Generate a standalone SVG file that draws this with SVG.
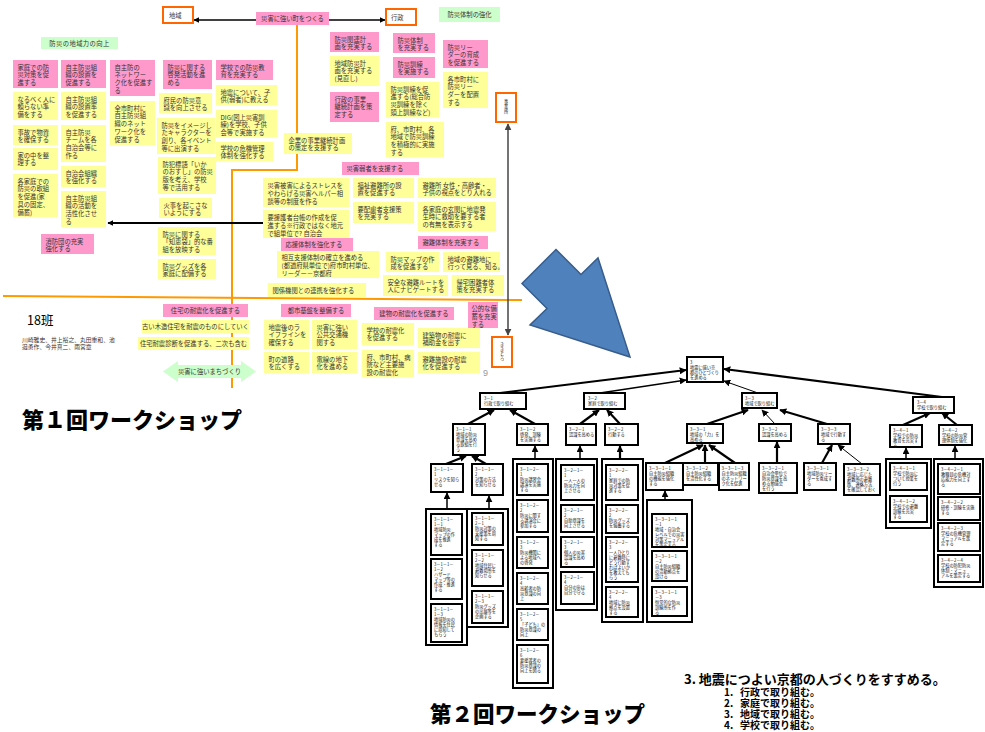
<svg xmlns="http://www.w3.org/2000/svg" width="985" height="732" viewBox="0 0 985 732">
<style>
.p{fill:#FF99CC}
.y{fill:#FFFF99}
.g{fill:#CCFFCC}
.o{fill:#fff;stroke:#FF6600;stroke-width:2}
.t{font-family:"Noto Sans CJK JP","Noto Sans",sans-serif;font-size:6.3px;fill:#333}
.n{fill:#fff;stroke:#000;stroke-width:2}
.s{font-family:"Noto Sans CJK JP","Noto Sans",sans-serif;font-size:4.2px;fill:#111}
.k{stroke:#000;fill:none}
.w1{stroke-width:1}
.w2{stroke-width:2.2}
.big{font-family:"Noto Sans CJK JP","Noto Sans",sans-serif;font-weight:900;fill:#000}
.h{font-family:"Noto Sans CJK JP","Noto Sans",sans-serif;font-weight:bold;fill:#000}
</style>
<defs>
<marker id="a" viewBox="0 0 10 10" refX="9" refY="5" markerWidth="6" markerHeight="6" markerUnits="userSpaceOnUse" orient="auto-start-reverse"><path d="M0,0L10,5L0,10z" fill="#000"/></marker>
<marker id="ag" viewBox="0 0 10 10" refX="9" refY="5" markerWidth="7" markerHeight="7" markerUnits="userSpaceOnUse" orient="auto-start-reverse"><path d="M0,0L10,5L0,10z" fill="#444"/></marker>
<marker id="b" viewBox="0 0 10 10" refX="9" refY="5" markerWidth="7" markerHeight="7" markerUnits="userSpaceOnUse" orient="auto"><path d="M0,0L10,5L0,10z" fill="#000"/></marker>
</defs>
<rect width="985" height="732" fill="#fff"/>

<g id="connectors">
<path d="M297,25V170H232V388" stroke="#FF9900" stroke-width="2" fill="none"/>
<path d="M3,296L522,300" stroke="#FF9900" stroke-width="2" fill="none"/>
<path d="M256,20H194" class="k" stroke-width="1.3" marker-end="url(#a)"/>
<path d="M329,20H385" class="k" stroke-width="1.3" marker-end="url(#a)"/>
<path d="M263,223H108" class="k" stroke-width="2" marker-end="url(#a)"/>
<path d="M508,124V335" stroke="#444" stroke-width="1.5" fill="none" marker-start="url(#ag)" marker-end="url(#ag)"/>
<path d="M500,393L686,370" class="k w2" marker-end="url(#b)"/>
<path d="M600,393L686,380" class="k" stroke-width="1.5" marker-end="url(#b)"/>
<path d="M758,393L724,381" class="k w1" marker-end="url(#b)"/>
<path d="M942,397L724,369" class="k w2" marker-end="url(#b)"/>
<path d="M468,424L494,410" class="k w2" marker-end="url(#b)"/>
<path d="M535,424L510,410" class="k w2" marker-end="url(#b)"/>
<path d="M580,424L599,410" class="k w2" marker-end="url(#b)"/>
<path d="M620,424L607,410" class="k w2" marker-end="url(#b)"/>
<path d="M707,424L748,410" class="k w2" marker-end="url(#b)"/>
<path d="M775,424L762,410" class="k w1" marker-end="url(#b)"/>
<path d="M827,424L780,410" class="k w2" marker-end="url(#b)"/>
<path d="M903,425L930,413" class="k w2" marker-end="url(#b)"/>
<path d="M957,425L942,413" class="k w2" marker-end="url(#b)"/>
<path d="M446,464L466,456" class="k w2" marker-end="url(#b)"/>
<path d="M486,464L472,456" class="k w2" marker-end="url(#b)"/>
<path d="M447,509V493" class="k" stroke-width="1.5" marker-end="url(#b)"/>
<path d="M489,509V496" class="k" stroke-width="1.5" marker-end="url(#b)"/>
<path d="M535,459V446" class="k" stroke-width="1.5" marker-end="url(#b)"/>
<path d="M580,459V446" class="k" stroke-width="1.5" marker-end="url(#b)"/>
<path d="M620,459V446" class="k w2" marker-end="url(#b)"/>
<path d="M665,463L703,445" class="k w2" marker-end="url(#b)"/>
<path d="M705,463V445" class="k w2" marker-end="url(#b)"/>
<path d="M735,463L709,445" class="k w2" marker-end="url(#b)"/>
<path d="M665,500V491" class="k" stroke-width="1.5" marker-end="url(#b)"/>
<path d="M777,463V442" class="k w2" marker-end="url(#b)"/>
<path d="M822,463L832,445" class="k w2" marker-end="url(#b)"/>
<path d="M862,464L838,445" class="k w1" marker-end="url(#b)"/>
<path d="M906,459V448" class="k" stroke-width="1.5" marker-end="url(#b)"/>
<path d="M955,459V446" class="k" stroke-width="1.5" marker-end="url(#b)"/>
</g>

<g id="chiiki"><rect class="o" x="163" y="7" width="30" height="16"/><text class="t" x="169" y="18">地域</text></g>
<g id="main1"><rect class="p" x="256" y="12" width="73" height="13"/><text class="t" x="292.5" y="21" text-anchor="middle">災害に強い町をつくる</text></g>
<g id="gyosei"><rect class="o" x="386" y="9" width="30" height="16"/><text class="t" x="391" y="20">行政</text></g>
<g id="gtaisei"><rect class="g" x="439" y="7" width="61" height="15"/><text class="t" x="469.5" y="17" text-anchor="middle">防災体制の強化</text></g>
<g id="gchiiki"><rect class="g" x="41" y="37" width="77" height="12"/><text class="t" x="79.5" y="45.5" text-anchor="middle" letter-spacing="0.4">防災の地域力の向上</text></g>
<g id="vbox1"><rect class="o" x="496" y="93" width="20" height="29"/><text class="s" x="506" y="103" text-anchor="middle"><tspan x="506">事</tspan><tspan x="506" dy="5">業</tspan><tspan x="506" dy="5">所</tspan></text></g>
<g id="vbox2"><rect class="o" x="492" y="337" width="20" height="30"/><text class="s" x="502" y="346" text-anchor="middle"><tspan x="502">き</tspan><tspan x="502" dy="4.5">き</tspan><tspan x="502" dy="4.5">と</tspan><tspan x="502" dy="4.5">ろ</tspan></text></g>

<g id="b1"><rect class="p" x="13" y="60" width="45" height="28"/><text class="t" y="69.5"><tspan x="17.5">家庭での防</tspan><tspan x="17.5" dy="7.8">災対策を促</tspan><tspan x="17.5" dy="7.8">進する</tspan></text></g>
<g id="b2"><rect class="y" x="13" y="92" width="45" height="28"/><text class="t" y="101.5"><tspan x="17.5">なるべく人に</tspan><tspan x="17.5" dy="7.8">頼らない準</tspan><tspan x="17.5" dy="7.8">備をする</tspan></text></g>
<g id="b3"><rect class="y" x="13" y="125" width="45" height="20"/><text class="t" y="134.5"><tspan x="17.5">事故で物資</tspan><tspan x="17.5" dy="7.8">を確保する</tspan></text></g>
<g id="b4"><rect class="y" x="13" y="148" width="45" height="22"/><text class="t" y="157.5"><tspan x="17.5">家の中を整</tspan><tspan x="17.5" dy="7.8">理する</tspan></text></g>
<g id="b5"><rect class="y" x="13" y="174" width="45" height="43"/><text class="t" y="183.5"><tspan x="17.5">各家庭での</tspan><tspan x="17.5" dy="7.8">防災の取組</tspan><tspan x="17.5" dy="7.8">を促進(家</tspan><tspan x="17.5" dy="7.8">具の固定、</tspan><tspan x="17.5" dy="7.8">備蓄)</tspan></text></g>
<g id="b6"><rect class="p" x="61" y="60" width="45" height="28"/><text class="t" y="69.5"><tspan x="65.5">自主防災組</tspan><tspan x="65.5" dy="7.8">織の設置を</tspan><tspan x="65.5" dy="7.8">促進する</tspan></text></g>
<g id="b7"><rect class="y" x="61" y="92" width="45" height="28"/><text class="t" y="101.5"><tspan x="65.5">自主防災組</tspan><tspan x="65.5" dy="7.8">織の設置率</tspan><tspan x="65.5" dy="7.8">を促進する</tspan></text></g>
<g id="b8"><rect class="y" x="61" y="125" width="45" height="37"/><text class="t" y="134.5"><tspan x="65.5">自主防災</tspan><tspan x="65.5" dy="7.8">チームを各</tspan><tspan x="65.5" dy="7.8">自治会等に</tspan><tspan x="65.5" dy="7.8">作る</tspan></text></g>
<g id="b9"><rect class="y" x="61" y="166" width="45" height="21"/><text class="t" y="175.5"><tspan x="65.5">自治会組織</tspan><tspan x="65.5" dy="7.8">を強化する</tspan></text></g>
<g id="b10"><rect class="y" x="61" y="191" width="45" height="36"/><text class="t" y="200.5"><tspan x="65.5">自主防災組</tspan><tspan x="65.5" dy="7.8">織の活動を</tspan><tspan x="65.5" dy="7.8">活性化させ</tspan><tspan x="65.5" dy="7.8">る</tspan></text></g>
<g id="b11"><rect class="p" x="41" y="234" width="53" height="20"/><text class="t" y="243.5"><tspan x="45.5">消防団の充実</tspan><tspan x="45.5" dy="7.8">強化する</tspan></text></g>
<g id="b12"><rect class="p" x="110" y="60" width="45" height="36"/><text class="t" y="69.5"><tspan x="114.5">自主防の</tspan><tspan x="114.5" dy="7.8">ネットワー</tspan><tspan x="114.5" dy="7.8">ク化を促進す</tspan><tspan x="114.5" dy="7.8">る</tspan></text></g>
<g id="b13"><rect class="y" x="110" y="101" width="45" height="44"/><text class="t" y="110.5"><tspan x="114.5">全市町村に</tspan><tspan x="114.5" dy="7.8">自主防災組</tspan><tspan x="114.5" dy="7.8">織のネット</tspan><tspan x="114.5" dy="7.8">ワーク化を</tspan><tspan x="114.5" dy="7.8">促進する</tspan></text></g>
<g id="b14"><rect class="p" x="163" y="60" width="49" height="29"/><text class="t" y="69.5"><tspan x="167.5">防災に関する</tspan><tspan x="167.5" dy="7.8">啓発活動を進</tspan><tspan x="167.5" dy="7.8">める</tspan></text></g>
<g id="b15"><rect class="y" x="159" y="93" width="53" height="20"/><text class="t" y="102.5"><tspan x="163.5">府民の防災意</tspan><tspan x="163.5" dy="7.8">識を向上させる</tspan></text></g>
<g id="b16"><rect class="y" x="157" y="118" width="58" height="36"/><text class="t" y="127.5"><tspan x="161.5">防災をイメージし</tspan><tspan x="161.5" dy="7.8">たキャラクターを</tspan><tspan x="161.5" dy="7.8">創り、各イベント</tspan><tspan x="161.5" dy="7.8">等に出演する</tspan></text></g>
<g id="b17"><rect class="y" x="158" y="157" width="58" height="37"/><text class="t" y="166.5"><tspan x="162.5">防犯標語「いか</tspan><tspan x="162.5" dy="7.8">のおすし」の防災</tspan><tspan x="162.5" dy="7.8">版を考え、学校</tspan><tspan x="162.5" dy="7.8">等で活用する</tspan></text></g>
<g id="b18"><rect class="y" x="159" y="198" width="53" height="20"/><text class="t" y="207.5"><tspan x="163.5">火事を起こさな</tspan><tspan x="163.5" dy="7.8">いようにする</tspan></text></g>
<g id="b19"><rect class="y" x="158" y="227" width="58" height="28"/><text class="t" y="236.5"><tspan x="162.5">防災に関する</tspan><tspan x="162.5" dy="7.8">「知恵袋」的な番</tspan><tspan x="162.5" dy="7.8">組を放映する</tspan></text></g>
<g id="b20"><rect class="y" x="158" y="259" width="58" height="20"/><text class="t" y="268.5"><tspan x="162.5">防災グッズを各</tspan><tspan x="162.5" dy="7.8">家庭に配備する</tspan></text></g>
<g id="b21"><rect class="p" x="216" y="60" width="57" height="20"/><text class="t" y="69.5"><tspan x="220.5">学校での防災教</tspan><tspan x="220.5" dy="7.8">育を充実する</tspan></text></g>
<g id="b22"><rect class="y" x="216" y="85" width="61" height="20"/><text class="t" y="94.5"><tspan x="220.5">地震について、子</tspan><tspan x="220.5" dy="7.8">供(弱者)に教える</tspan></text></g>
<g id="b23"><rect class="y" x="216" y="110" width="61" height="27"/><text class="t" y="119.5"><tspan x="220.5">DIG(図上災害訓</tspan><tspan x="220.5" dy="7.8">練)を学校、子供</tspan><tspan x="220.5" dy="7.8">会等で実施する</tspan></text></g>
<g id="b24"><rect class="y" x="216" y="142" width="57" height="19"/><text class="t" y="150.5"><tspan x="220.5">学校の危機管理</tspan><tspan x="220.5" dy="7.8">体制を強化する</tspan></text></g>
<g id="b25"><rect class="y" x="284" y="133" width="68" height="21"/><text class="t" y="142.5"><tspan x="288.5">企業の事業継続計画</tspan><tspan x="288.5" dy="7.8">の策定を支援する</tspan></text></g>
<g id="b26"><rect class="p" x="330" y="32" width="49" height="20"/><text class="t" y="41.5"><tspan x="334.5">防災関連計</tspan><tspan x="334.5" dy="7.8">画を充実する</tspan></text></g>
<g id="b27"><rect class="y" x="330" y="56" width="49" height="30"/><text class="t" y="65.5"><tspan x="334.5">地域防災計</tspan><tspan x="334.5" dy="7.8">画を充実する</tspan><tspan x="334.5" dy="7.8">(見直し)</tspan></text></g>
<g id="b28"><rect class="p" x="330" y="92" width="49" height="30"/><text class="t" y="101.5"><tspan x="334.5">行政の事業</tspan><tspan x="334.5" dy="7.8">継続計画を策</tspan><tspan x="334.5" dy="7.8">定する</tspan></text></g>
<g id="b29"><rect class="p" x="393" y="33" width="42" height="20"/><text class="t" y="42.5"><tspan x="397.5">防災体制</tspan><tspan x="397.5" dy="7.8">を充実する</tspan></text></g>
<g id="b30"><rect class="p" x="393" y="57" width="42" height="21"/><text class="t" y="66.5"><tspan x="397.5">防災訓練</tspan><tspan x="397.5" dy="7.8">を実施する</tspan></text></g>
<g id="b31"><rect class="y" x="386" y="82" width="53" height="35"/><text class="t" y="91.5"><tspan x="390.5">防災訓練を促</tspan><tspan x="390.5" dy="7.8">進する(総合防</tspan><tspan x="390.5" dy="7.8">災訓練を除く</tspan><tspan x="390.5" dy="7.8">頭上訓練など)</tspan></text></g>
<g id="b32"><rect class="y" x="386" y="122" width="58" height="35"/><text class="t" y="131.5"><tspan x="390.5">府、市町村、各</tspan><tspan x="390.5" dy="7.8">地域で防災訓練</tspan><tspan x="390.5" dy="7.8">を積極的に実施</tspan><tspan x="390.5" dy="7.8">する</tspan></text></g>
<g id="b33"><rect class="p" x="443" y="40" width="45" height="28"/><text class="t" y="49.5"><tspan x="447.5">防災リー</tspan><tspan x="447.5" dy="7.8">ダーの育成</tspan><tspan x="447.5" dy="7.8">を促進する</tspan></text></g>
<g id="b34"><rect class="y" x="443" y="72" width="45" height="36"/><text class="t" y="81.5"><tspan x="447.5">各市町村に</tspan><tspan x="447.5" dy="7.8">防災リー</tspan><tspan x="447.5" dy="7.8">ダーを配置</tspan><tspan x="447.5" dy="7.8">する</tspan></text></g>
<g id="b35"><rect class="p" x="342" y="162" width="77" height="13"/><text class="t" x="346.5" y="171">災害弱者を支援する</text></g>
<g id="b36"><rect class="y" x="263" y="178" width="86" height="29"/><text class="t" y="187.5"><tspan x="267.5">災害被害によるストレスを</tspan><tspan x="267.5" dy="8">やわらげる災害ヘルパー相</tspan><tspan x="267.5" dy="8">談等の制度を作る</tspan></text></g>
<g id="b37"><rect class="y" x="263" y="210" width="86" height="28"/><text class="t" y="219.5"><tspan x="267.5">要援護者台帳の作成を促</tspan><tspan x="267.5" dy="8">進する※行政ではなく地元</tspan><tspan x="267.5" dy="8">で組単位で?  自治会</tspan></text></g>
<g id="b38"><rect class="p" x="281" y="238" width="72" height="13"/><text class="t" x="285.5" y="247">応援体制を強化する</text></g>
<g id="b39"><rect class="y" x="277" y="251" width="102" height="27"/><text class="t" y="259.5"><tspan x="281.5">相互支援体制の確立を進める</tspan><tspan x="281.5" dy="8">(都道府県単位で)府市町村単位、</tspan><tspan x="281.5" dy="8">リーダー－京都府</tspan></text></g>
<g id="b40"><rect class="y" x="268" y="283" width="98" height="14"/><text class="t" x="272.5" y="292.5">関係機関との連携を強化する</text></g>
<g id="b41"><rect class="y" x="353" y="178" width="61" height="20"/><text class="t" y="187.5"><tspan x="357.5">福祉避難所の設</tspan><tspan x="357.5" dy="7.8">置を促進する</tspan></text></g>
<g id="b42"><rect class="y" x="353" y="202" width="61" height="21"/><text class="t" y="211.5"><tspan x="357.5">要配慮者支援策</tspan><tspan x="357.5" dy="7.8">を充実する</tspan></text></g>
<g id="b43"><rect class="y" x="418" y="178" width="78" height="20"/><text class="t" y="187.5"><tspan x="422.5">避難所  女性・高齢者・</tspan><tspan x="422.5" dy="7.8">子供の視点をとり入れる</tspan></text></g>
<g id="b44"><rect class="y" x="418" y="202" width="78" height="29"/><text class="t" y="211.5"><tspan x="422.5">各家庭の玄関に地震発</tspan><tspan x="422.5" dy="7.8">生時に救助を要する者</tspan><tspan x="422.5" dy="7.8">の有無を表示する</tspan></text></g>
<g id="b45"><rect class="p" x="418" y="236" width="70" height="13"/><text class="t" x="422.5" y="245">避難体制を充実する</text></g>
<g id="b46"><rect class="y" x="386" y="252" width="53" height="20"/><text class="t" y="261.5"><tspan x="390.5">防災マップの作</tspan><tspan x="390.5" dy="7.8">成を促進する</tspan></text></g>
<g id="b47"><rect class="y" x="443" y="252" width="57" height="20"/><text class="t" y="261.5"><tspan x="447.5">地域の避難地に</tspan><tspan x="447.5" dy="7.8">行って見る、知る。</tspan></text></g>
<g id="b48"><rect class="y" x="383" y="275" width="65" height="21"/><text class="t" y="284.5"><tspan x="387.5">安全な避難ルートを</tspan><tspan x="387.5" dy="7.8">人にナビゲートする</tspan></text></g>
<g id="b49"><rect class="y" x="452" y="275" width="52" height="21"/><text class="t" y="284.5"><tspan x="456.5">帰宅困難者体</tspan><tspan x="456.5" dy="7.8">策を充実する</tspan></text></g>

<g id="b50"><rect class="p" x="163" y="304" width="85" height="13"/><text class="t" x="205.5" y="313" text-anchor="middle">住宅の耐震化を促進する</text></g>
<g id="b51"><rect class="y" x="142" y="320" width="107" height="13"/><text class="t" x="195.5" y="329" text-anchor="middle">古い木造住宅を耐震のものにしていく</text></g>
<g id="b52"><rect class="y" x="138" y="337" width="111" height="13"/><text class="t" x="193.5" y="346" text-anchor="middle">住宅耐震診断を促進する、二次も含む</text></g>
<g id="b53"><rect class="p" x="281" y="304" width="70" height="13"/><text class="t" x="316" y="313" text-anchor="middle">都市基盤を整備する</text></g>
<g id="b54"><rect class="y" x="264" y="320" width="45" height="29"/><text class="t" y="329.5"><tspan x="268.5">地震後のラ</tspan><tspan x="268.5" dy="7.8">イフラインを</tspan><tspan x="268.5" dy="7.8">確保する</tspan></text></g>
<g id="b55"><rect class="y" x="312" y="320" width="45" height="29"/><text class="t" y="329.5"><tspan x="316.5">災害に強い</tspan><tspan x="316.5" dy="7.8">公共交通機</tspan><tspan x="316.5" dy="7.8">関する</tspan></text></g>
<g id="b56"><rect class="y" x="264" y="352" width="45" height="21"/><text class="t" y="361.5"><tspan x="268.5">町の道路</tspan><tspan x="268.5" dy="7.8">を広くする</tspan></text></g>
<g id="b57"><rect class="y" x="312" y="352" width="45" height="21"/><text class="t" y="361.5"><tspan x="316.5">電線の地下</tspan><tspan x="316.5" dy="7.8">化を進める</tspan></text></g>
<g id="b58"><rect class="p" x="374" y="307" width="80" height="13"/><text class="t" x="414" y="316" text-anchor="middle">建物の耐震化を促進する</text></g>
<g id="b59"><rect class="y" x="362" y="323" width="52" height="22"/><text class="t" y="332.5"><tspan x="366.5">学校の耐震化</tspan><tspan x="366.5" dy="7.8">を促進する</tspan></text></g>
<g id="b60"><rect class="y" x="418" y="328" width="62" height="20"/><text class="t" y="337.5"><tspan x="422.5">建築物の耐震に</tspan><tspan x="422.5" dy="7.8">補助金を出す</tspan></text></g>
<g id="b61"><rect class="y" x="362" y="350" width="52" height="27"/><text class="t" y="359.5"><tspan x="366.5">府、市町村、病</tspan><tspan x="366.5" dy="7.8">院など主要施</tspan><tspan x="366.5" dy="7.8">設の耐震化</tspan></text></g>
<g id="b62"><rect class="y" x="418" y="352" width="62" height="21"/><text class="t" y="361.5"><tspan x="422.5">避難施設の耐震</tspan><tspan x="422.5" dy="7.8">化を促進する</tspan></text></g>
<g id="b63"><rect class="p" x="468" y="302" width="30" height="26"/><text class="t" y="311"><tspan x="471.5">公的な備</tspan><tspan x="471.5" dy="7.8">蓄を充実</tspan><tspan x="471.5" dy="7.8">する</tspan></text></g>

<g id="machizukuri"><path class="g" d="M163,371.5L178,361V365H241V361L256,371.5L241,382V378H178V382Z"/><text class="t" x="209.5" y="374" text-anchor="middle">災害に強いまちづくり</text></g>
<g id="han"><text x="27" y="325" font-family="Noto Sans CJK JP,sans-serif" font-size="12.5" fill="#000">18班</text>
<text class="t" y="342" style="font-size:5.8px"><tspan x="22">川崎雅史、井上裕之、丸田重和、池</tspan><tspan x="22" dy="7">邉勇作、今井真二、雨宮章</tspan></text></g>
<text x="483" y="376" font-family="Liberation Sans,sans-serif" font-size="9" fill="#999">9</text>
<text class="big" x="22" y="428" font-size="22">第１回ワークショップ</text>

<g id="bluearrow"><path d="M556,249.5L581,274.5L598,258L630,357L530,325L547,308.5L522,283.5Z" fill="#4F81BD" stroke="#385D8A" stroke-width="1.5"/></g>

<g id="root"><rect class="n" x="687" y="357" width="36" height="25"/><text class="s" y="363.5"><tspan x="690">3</tspan><tspan x="690" dy="5">地震に強い京</tspan><tspan x="690" dy="5">都のひとづくり</tspan><tspan x="690" dy="5">を進める</tspan></text></g>
<g id="n31"><rect class="n" x="480" y="393" width="46" height="16"/><text class="s" y="399.5"><tspan x="484">3－1</tspan><tspan x="484" dy="5">行政で取り組む</tspan></text></g>
<g id="n32"><rect class="n" x="584" y="393" width="41" height="16"/><text class="s" y="399.5"><tspan x="588">3－2</tspan><tspan x="588" dy="5">家庭で取り組む</tspan></text></g>
<g id="n33"><rect class="n" x="742" y="393" width="35" height="15"/><text class="s" y="399.5"><tspan x="745">3－3</tspan><tspan x="745" dy="5">地域で取り組む</tspan></text></g>
<g id="n34"><rect class="n" x="913" y="397" width="41" height="16"/><text class="s" y="403.5"><tspan x="917">3－4</tspan><tspan x="917" dy="5">学校で取り組む</tspan></text></g>
<g id="n311"><rect class="n" x="453" y="424" width="32" height="31"/><text class="s" y="430.5"><tspan x="456">3－1－1</tspan><tspan x="456" dy="5">地域の防災</tspan><tspan x="456" dy="5">意識を高め</tspan><tspan x="456" dy="5">る取組を行</tspan><tspan x="456" dy="5">う</tspan></text></g>
<g id="n312"><rect class="n" x="517" y="424" width="31" height="21"/><text class="s" y="430.5"><tspan x="520">3－1－2</tspan><tspan x="520" dy="5">啓発、訓練</tspan><tspan x="520" dy="5">を実施する</tspan></text></g>
<g id="n321"><rect class="n" x="566" y="424" width="30" height="21"/><text class="s" y="430.5"><tspan x="569">3－2－1</tspan><tspan x="569" dy="5">認識を高める</tspan></text></g>
<g id="n322"><rect class="n" x="605" y="424" width="33" height="21"/><text class="s" y="430.5"><tspan x="608">3－2－2</tspan><tspan x="608" dy="5">行動する</tspan></text></g>
<g id="n331"><rect class="n" x="687" y="424" width="36" height="19"/><text class="s" y="430.5"><tspan x="690">3－3－1</tspan><tspan x="690" dy="5">地域の「力」を</tspan><tspan x="690" dy="5">高める</tspan></text></g>
<g id="n332"><rect class="n" x="759" y="424" width="32" height="17"/><text class="s" y="430.5"><tspan x="762">3－3－2</tspan><tspan x="762" dy="5">認識を高める</tspan></text></g>
<g id="n333"><rect class="n" x="818" y="424" width="32" height="20"/><text class="s" y="430.5"><tspan x="821">3－3－3</tspan><tspan x="821" dy="5">地域で行動す</tspan><tspan x="821" dy="5">る</tspan></text></g>
<g id="n341"><rect class="n" x="890" y="425" width="32" height="22"/><text class="s" y="431.5"><tspan x="893">3－4－1</tspan><tspan x="893" dy="5">学校での防災</tspan><tspan x="893" dy="5">教育を充実す</tspan><tspan x="893" dy="5">る</tspan></text></g>
<g id="n342"><rect class="n" x="939" y="425" width="33" height="20"/><text class="s" y="431.5"><tspan x="942">3－4－2</tspan><tspan x="942" dy="5">学校の防災管</tspan><tspan x="942" dy="5">理体制を強化</tspan></text></g>
<g id="n3111"><rect class="n" x="431" y="464" width="32" height="28"/><text class="s" y="470.5"><tspan x="434">3－1－1－</tspan><tspan x="434" dy="5">1</tspan><tspan x="434" dy="5">リスクを知ら</tspan><tspan x="434" dy="5">せる</tspan></text></g>
<g id="n3112"><rect class="n" x="472" y="464" width="31" height="31"/><text class="s" y="470.5"><tspan x="475">3－1－1－</tspan><tspan x="475" dy="5">2</tspan><tspan x="475" dy="5">対策の方法</tspan><tspan x="475" dy="5">を知らせる</tspan></text></g>
<g id="n3311"><rect class="n" x="646" y="463" width="37" height="27"/><text class="s" y="469.5"><tspan x="649">3－3－1－1</tspan><tspan x="649" dy="5">自主防災組織</tspan><tspan x="649" dy="5">の機能を強化</tspan><tspan x="649" dy="5">する</tspan></text></g>
<g id="n3312"><rect class="n" x="683" y="463" width="35" height="22"/><text class="s" y="469.5"><tspan x="686">3－3－1－2</tspan><tspan x="686" dy="5">自主防災組織</tspan><tspan x="686" dy="5">を活性化する</tspan></text></g>
<g id="n3313"><rect class="n" x="719" y="463" width="30" height="27"/><text class="s" y="469.5"><tspan x="721.5">3－3－1－3</tspan><tspan x="721.5" dy="5">自主防災組織</tspan><tspan x="721.5" dy="5">のネットワー</tspan><tspan x="721.5" dy="5">ク化を促進</tspan></text></g>
<g id="n3321"><rect class="n" x="759" y="463" width="38" height="30"/><text class="s" y="469.5"><tspan x="762">3－3－2－1</tspan><tspan x="762" dy="5">自治会単位で</tspan><tspan x="762" dy="5">防災意識を高</tspan><tspan x="762" dy="5">める勉強会</tspan><tspan x="762" dy="5">を行う</tspan></text></g>
<g id="n3331"><rect class="n" x="804" y="463" width="32" height="27"/><text class="s" y="469.5"><tspan x="807">3－3－3－1</tspan><tspan x="807" dy="5">地域防災リー</tspan><tspan x="807" dy="5">ダーを養成す</tspan><tspan x="807" dy="5">る</tspan></text></g>
<g id="n3332"><rect class="n" x="844" y="464" width="36" height="31"/><text class="s" y="470.5"><tspan x="847">3－3－3－2</tspan><tspan x="847" dy="5">地域に応じた</tspan><tspan x="847" dy="5">避難所の避難</tspan><tspan x="847" dy="5">路、連絡方法</tspan><tspan x="847" dy="5">を確認しておく</tspan></text></g>

<g id="colA"><rect class="n" x="426" y="509" width="41" height="136"/>
<rect class="n" x="431" y="514" width="31" height="41"/><text class="s" y="520.5"><tspan x="434">3－1－1－</tspan><tspan x="434" dy="5">1－1</tspan><tspan x="434" dy="5">地域防災</tspan><tspan x="434" dy="5">マップの作</tspan><tspan x="434" dy="5">成を推進</tspan><tspan x="434" dy="5">する</tspan></text>
<rect class="n" x="431" y="559" width="31" height="40"/><text class="s" y="565.5"><tspan x="434">3－1－1－</tspan><tspan x="434" dy="5">1－2</tspan><tspan x="434" dy="5">ハザード</tspan><tspan x="434" dy="5">マップ等の</tspan><tspan x="434" dy="5">作成・推進</tspan><tspan x="434" dy="5">する</tspan></text>
<rect class="n" x="431" y="604" width="31" height="38"/><text class="s" y="610.5"><tspan x="434">3－1－1－</tspan><tspan x="434" dy="5">1－3</tspan><tspan x="434" dy="5">地域防災の</tspan><tspan x="434" dy="5">情報を住民</tspan><tspan x="434" dy="5">に周知して</tspan><tspan x="434" dy="5">もらう</tspan></text></g>
<g id="colB"><rect class="n" x="467" y="509" width="41" height="118"/>
<rect class="n" x="472" y="513" width="31" height="32"/><text class="s" y="519.5"><tspan x="475">3－1－1－</tspan><tspan x="475" dy="5">2－1</tspan><tspan x="475" dy="5">防災対策の</tspan><tspan x="475" dy="5">支援策を周</tspan><tspan x="475" dy="5">知する</tspan></text>
<rect class="n" x="472" y="550" width="31" height="36"/><text class="s" y="556.5"><tspan x="475">3－1－1－</tspan><tspan x="475" dy="5">2－2</tspan><tspan x="475" dy="5">地域住民に</tspan><tspan x="475" dy="5">避難場所を</tspan><tspan x="475" dy="5">知らせる</tspan></text>
<rect class="n" x="472" y="591" width="31" height="32"/><text class="s" y="597.5"><tspan x="475">3－1－1－</tspan><tspan x="475" dy="5">2－3</tspan><tspan x="475" dy="5">防災グッズ</tspan><tspan x="475" dy="5">の出展等を</tspan><tspan x="475" dy="5">企画する</tspan></text></g>
<g id="colC"><rect class="n" x="513" y="459" width="40" height="229"/>
<rect class="n" x="517" y="464" width="31" height="31"/><text class="s" y="470.5"><tspan x="520">3－1－2－</tspan><tspan x="520" dy="5">1</tspan><tspan x="520" dy="5">防災講習会</tspan><tspan x="520" dy="5">講演を実施</tspan><tspan x="520" dy="5">する</tspan></text>
<rect class="n" x="517" y="500" width="31" height="32"/><text class="s" y="506.5"><tspan x="520">3－1－2－</tspan><tspan x="520" dy="5">2</tspan><tspan x="520" dy="5">防災に関す</tspan><tspan x="520" dy="5">る講演会に</tspan><tspan x="520" dy="5">参加する</tspan></text>
<rect class="n" x="517" y="537" width="31" height="31"/><text class="s" y="543.5"><tspan x="520">3－1－2－</tspan><tspan x="520" dy="5">3</tspan><tspan x="520" dy="5">防災機関に</tspan><tspan x="520" dy="5">よる地域へ</tspan><tspan x="520" dy="5">の啓発</tspan></text>
<rect class="n" x="517" y="573" width="31" height="31"/><text class="s" y="579.5"><tspan x="520">3－1－2－</tspan><tspan x="520" dy="5">4</tspan><tspan x="520" dy="5">高齢者の防</tspan><tspan x="520" dy="5">災意識の向</tspan><tspan x="520" dy="5">上</tspan></text>
<rect class="n" x="517" y="609" width="31" height="31"/><text class="s" y="615.5"><tspan x="520">3－1－2－</tspan><tspan x="520" dy="5">5</tspan><tspan x="520" dy="5">「子ども」の</tspan><tspan x="520" dy="5">防災意識の</tspan><tspan x="520" dy="5">向上</tspan></text>
<rect class="n" x="517" y="645" width="31" height="38"/><text class="s" y="651.5"><tspan x="520">3－1－2－</tspan><tspan x="520" dy="5">6</tspan><tspan x="520" dy="5">要援護者の</tspan><tspan x="520" dy="5">防災意識の</tspan><tspan x="520" dy="5">向上を図る</tspan></text></g>
<g id="colD"><rect class="n" x="556" y="459" width="41" height="151"/>
<rect class="n" x="561" y="465" width="33" height="35"/><text class="s" y="471.5"><tspan x="564">3－2－1－</tspan><tspan x="564" dy="5">1</tspan><tspan x="564" dy="5">一人一人の</tspan><tspan x="564" dy="5">防災力を向</tspan><tspan x="564" dy="5">上させる</tspan></text>
<rect class="n" x="561" y="505" width="33" height="27"/><text class="s" y="511.5"><tspan x="564">3－2－1－</tspan><tspan x="564" dy="5">2</tspan><tspan x="564" dy="5">自助意識を</tspan><tspan x="564" dy="5">向上させる</tspan></text>
<rect class="n" x="561" y="537" width="33" height="30"/><text class="s" y="543.5"><tspan x="564">3－2－1－</tspan><tspan x="564" dy="5">3</tspan><tspan x="564" dy="5">個人の災害</tspan><tspan x="564" dy="5">認識を高め</tspan><tspan x="564" dy="5">る</tspan></text>
<rect class="n" x="561" y="572" width="33" height="32"/><text class="s" y="578.5"><tspan x="564">3－2－1－</tspan><tspan x="564" dy="5">4</tspan><tspan x="564" dy="5">自分の命は</tspan><tspan x="564" dy="5">自分で守る</tspan></text></g>
<g id="colE"><rect class="n" x="602" y="459" width="41" height="163"/>
<rect class="n" x="606" y="465" width="32" height="35"/><text class="s" y="471.5"><tspan x="609">3－2－2－</tspan><tspan x="609" dy="5">1</tspan><tspan x="609" dy="5">家庭での防</tspan><tspan x="609" dy="5">災対策を促</tspan><tspan x="609" dy="5">進する</tspan></text>
<rect class="n" x="606" y="505" width="32" height="28"/><text class="s" y="511.5"><tspan x="609">3－2－2－</tspan><tspan x="609" dy="5">2</tspan><tspan x="609" dy="5">防災グッズ</tspan><tspan x="609" dy="5">を備蓄する</tspan></text>
<rect class="n" x="606" y="537" width="32" height="45"/><text class="s" y="543.5"><tspan x="609">3－2－2－</tspan><tspan x="609" dy="5">3</tspan><tspan x="609" dy="5">一人ひとり</tspan><tspan x="609" dy="5">に避難時に</tspan><tspan x="609" dy="5">どう行動す</tspan><tspan x="609" dy="5">ればよいか</tspan><tspan x="609" dy="5">を教えても</tspan><tspan x="609" dy="5">らう</tspan></text>
<rect class="n" x="606" y="587" width="32" height="30"/><text class="s" y="593.5"><tspan x="609">3－2－2－</tspan><tspan x="609" dy="5">4</tspan><tspan x="609" dy="5">地域に防災</tspan><tspan x="609" dy="5">拠点を設置</tspan><tspan x="609" dy="5">する</tspan></text></g>
<g id="colF"><rect class="n" x="647" y="500" width="45" height="122"/>
<rect class="n" x="652" y="514" width="35" height="33"/><text class="s" y="520.5"><tspan x="655">3－3－1－1</tspan><tspan x="655" dy="5">－1</tspan><tspan x="655" dy="5">地域・自治会</tspan><tspan x="655" dy="5">レベルでの災害</tspan><tspan x="655" dy="5">対策マニュアル</tspan><tspan x="655" dy="5">を策定する</tspan></text>
<rect class="n" x="652" y="551" width="35" height="30"/><text class="s" y="557.5"><tspan x="655">3－3－1－1</tspan><tspan x="655" dy="5">－2</tspan><tspan x="655" dy="5">自主防災組織</tspan><tspan x="655" dy="5">の活動拠点を</tspan><tspan x="655" dy="5">設ける</tspan></text>
<rect class="n" x="652" y="587" width="35" height="29"/><text class="s" y="593.5"><tspan x="655">3－3－1－1</tspan><tspan x="655" dy="5">－3</tspan><tspan x="655" dy="5">恒常的な防災</tspan><tspan x="655" dy="5">訓練所を作</tspan><tspan x="655" dy="5">る</tspan></text></g>
<g id="colG"><rect class="n" x="886" y="459" width="45" height="69"/>
<rect class="n" x="890" y="463" width="37" height="27"/><text class="s" y="469.5"><tspan x="893">3－4－1－1</tspan><tspan x="893" dy="5">学校で防災に</tspan><tspan x="893" dy="5">ついて授業を</tspan><tspan x="893" dy="5">行う</tspan></text>
<rect class="n" x="890" y="496" width="37" height="26"/><text class="s" y="502.5"><tspan x="893">3－4－1－2</tspan><tspan x="893" dy="5">学校での避難</tspan><tspan x="893" dy="5">訓練を充実</tspan><tspan x="893" dy="5">する</tspan></text></g>
<g id="colH"><rect class="n" x="934" y="459" width="49" height="128"/>
<rect class="n" x="938" y="464" width="42" height="30"/><text class="s" y="470.5"><tspan x="941">3－4－2－1</tspan><tspan x="941" dy="5">教職員の危機対</tspan><tspan x="941" dy="5">応能力を向上す</tspan><tspan x="941" dy="5">る</tspan></text>
<rect class="n" x="938" y="497" width="42" height="23"/><text class="s" y="503.5"><tspan x="941">3－4－2－2</tspan><tspan x="941" dy="5">研修・訓練を実施</tspan><tspan x="941" dy="5">する</tspan></text>
<rect class="n" x="938" y="523" width="42" height="28"/><text class="s" y="529.5"><tspan x="941">3－4－2－3</tspan><tspan x="941" dy="5">学校の危機管理</tspan><tspan x="941" dy="5">マニュアルを策</tspan><tspan x="941" dy="5">定する</tspan></text>
<rect class="n" x="938" y="555" width="42" height="27"/><text class="s" y="561.5"><tspan x="941">3－4－2－4</tspan><tspan x="941" dy="5">学校の防犯防災</tspan><tspan x="941" dy="5">体制・マニュ</tspan><tspan x="941" dy="5">アルを策定する</tspan></text></g>

<g id="summary">
<text class="h" x="684" y="684" font-size="13">3. 地震につよい京都の人づくりをすすめる。</text>
<text class="h" x="724" y="695.5" font-size="10">1.</text><text class="h" x="740" y="695.5" font-size="10">行政で取り組む。</text>
<text class="h" x="724" y="706.8" font-size="10">2.</text><text class="h" x="740" y="706.8" font-size="10">家庭で取り組む。</text>
<text class="h" x="724" y="718" font-size="10">3.</text><text class="h" x="740" y="718" font-size="10">地域で取り組む。</text>
<text class="h" x="724" y="729.3" font-size="10">4.</text><text class="h" x="740" y="729.3" font-size="10">学校で取り組む。</text>
</g>
<text class="big" x="430" y="722" font-size="21.5">第２回ワークショップ</text>
</svg>
